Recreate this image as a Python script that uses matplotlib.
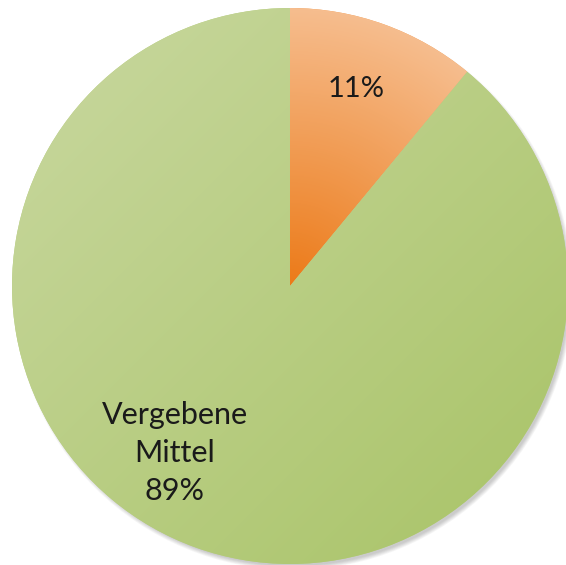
import numpy as np
import matplotlib.pyplot as plt
from matplotlib.colors import LinearSegmentedColormap
from matplotlib.patches import Circle

shares = [11, 89]
labels = ["11%", "Vergebene\nMittel\n89%"]

W, H = 566, 565
cx, cy, R = 290, H - 286, 278

fig = plt.figure(figsize=(W / 100, H / 100), dpi=100)
ax = fig.add_axes([0, 0, 1, 1])

# soft drop shadow under the pie
for k in range(6):
    ax.add_patch(Circle((cx + 3, cy - 4), R + 2 - k * 0.8, color="black",
                        alpha=0.035, lw=0, zorder=0))

wedges, _ = ax.pie(shares, startangle=90, counterclock=False,
                   center=(cx, cy), radius=R, frame=True,
                   colors=["#F09A50", "#B9CF83"],
                   wedgeprops=dict(lw=0))

# orange: radial shading from the centre outwards
yy, xx = np.mgrid[0:H, 0:W]
yy = H - yy
dist = np.clip(np.hypot(xx - cx, yy - cy) / R, 0, 1)
orange = LinearSegmentedColormap.from_list("o", ["#EC7A18", "#F6BD8E"])
im = ax.imshow(dist, cmap=orange, extent=(0, W, 0, H), origin="upper",
               vmin=0, vmax=1, zorder=2, interpolation="bilinear")
im.set_clip_path(wedges[0])

# green: diagonal shading from top-left to bottom-right
diag = ((xx - (cx - R)) + ((cy + R) - yy)) / (4 * R)
green = LinearSegmentedColormap.from_list("g", ["#C9D8A0", "#A8C366"])
im2 = ax.imshow(diag, cmap=green, extent=(0, W, 0, H), origin="upper",
                vmin=0, vmax=1, zorder=2, interpolation="bilinear")
im2.set_clip_path(wedges[1])

font = ["Lato", "DejaVu Sans"]
ax.text(356, H - 89, labels[0], ha="center", va="center", fontsize=21,
        family=font, color="#1a1a1a", zorder=3)
ax.text(175, H - 453, labels[1], ha="center", va="center", fontsize=22,
        family=font, color="#1a1a1a", linespacing=1.45, zorder=3)

ax.set_xlim(0, W)
ax.set_ylim(0, H)
ax.set_aspect("equal")
ax.axis("off")

fig.savefig("out.png", dpi=100)
